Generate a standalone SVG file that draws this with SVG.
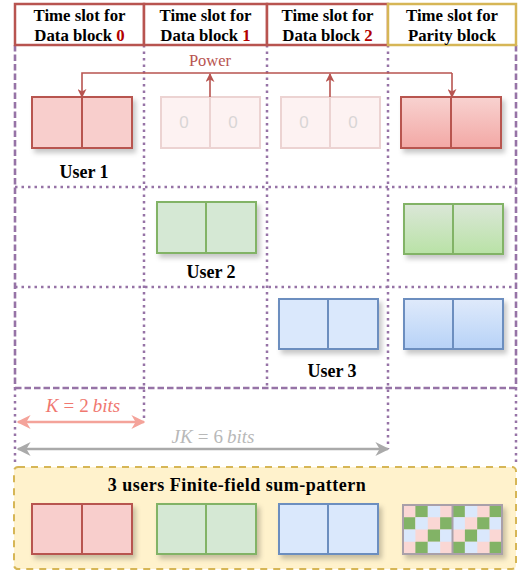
<svg xmlns="http://www.w3.org/2000/svg" width="524" height="574" viewBox="0 0 524 574">
<style>
.hdr{font-family:"Liberation Serif",serif;font-weight:bold;font-size:16.8px;fill:#000;text-anchor:middle}
.num{fill:#b20000}
.lbl{font-family:"Liberation Serif",serif;font-weight:bold;font-size:18px;fill:#000;text-anchor:middle}
.dot{fill:none;stroke:#9673a6;stroke-width:2.5;stroke-dasharray:2.5 4}
.dash{fill:none;stroke:#9673a6;stroke-width:2.6;stroke-dasharray:6.5 3}
.red{fill:#f8cecc;stroke:#b85450;stroke-width:2}
.grn{fill:#d5e8d4;stroke:#82b366;stroke-width:2}
.blu{fill:#dae8fc;stroke:#6c8ebf;stroke-width:2}
.pw{fill:none;stroke:#b85450;stroke-width:1.6}
.zero{font-family:"Liberation Sans",Arial,sans-serif;font-size:17px;fill:#d9d6d6;text-anchor:middle}
.math{font-family:"Liberation Serif",serif;font-size:19px;text-anchor:middle}
</style>
<defs>
<filter id="sh" x="-20%" y="-20%" width="150%" height="160%">
<feDropShadow dx="3" dy="4" stdDeviation="2.5" flood-color="#000" flood-opacity="0.22"/>
</filter>
<linearGradient id="gr" x1="0" y1="0" x2="0" y2="1"><stop offset="0" stop-color="#f8d2d0"/><stop offset="1" stop-color="#f3a8a5"/></linearGradient>
<linearGradient id="gg" x1="0" y1="0" x2="0" y2="1"><stop offset="0" stop-color="#dbe7d8"/><stop offset="1" stop-color="#b9e2a6"/></linearGradient>
<linearGradient id="gb" x1="0" y1="0" x2="0" y2="1"><stop offset="0" stop-color="#dfeafb"/><stop offset="1" stop-color="#b7d2f7"/></linearGradient>
<marker id="ap" viewBox="0 0 10 10" refX="9" refY="5" markerWidth="9" markerHeight="9" markerUnits="userSpaceOnUse" orient="auto"><path d="M0,0 L10,5 L0,10 L3,5 z" fill="#b85450"/></marker>
<marker id="ak" viewBox="0 0 10 10" refX="9" refY="5" markerWidth="14" markerHeight="14" markerUnits="userSpaceOnUse" orient="auto-start-reverse"><path d="M0,0 L10,5 L0,10 L3,5 z" fill="#f4a39a"/></marker>
<marker id="ag" viewBox="0 0 10 10" refX="9" refY="5" markerWidth="14" markerHeight="14" markerUnits="userSpaceOnUse" orient="auto-start-reverse"><path d="M0,0 L10,5 L0,10 L3,5 z" fill="#aaaaaa"/></marker>
</defs>

<g id="grid">
<line class="dot" x1="15" y1="187" x2="516" y2="187"/>
<line class="dot" x1="15" y1="287" x2="516" y2="287"/>
<line class="dot" x1="144" y1="45" x2="144" y2="422"/>
<line class="dot" x1="267" y1="45" x2="267" y2="388"/>
<line class="dot" x1="388" y1="45" x2="388" y2="449"/>
<line class="dot" x1="15" y1="388" x2="15" y2="463"/>
<line class="dot" x1="516" y1="388" x2="516" y2="463"/>
<line class="dash" x1="15" y1="45" x2="15" y2="388"/>
<line class="dash" x1="516" y1="45" x2="516" y2="388"/>
<line class="dash" x1="15" y1="388" x2="516" y2="388"/>
</g>

<g id="header0"><rect x="15" y="4" width="129" height="41" fill="#fff" stroke="#b85450" stroke-width="2.5"/>
<text class="hdr" x="79.5" y="20.5">Time slot for</text><text class="hdr" x="79.5" y="40.5">Data block <tspan class="num">0</tspan></text></g>
<g id="header1"><rect x="144" y="4" width="123" height="41" fill="#fff" stroke="#b85450" stroke-width="2.5"/>
<text class="hdr" x="205.5" y="20.5">Time slot for</text><text class="hdr" x="205.5" y="40.5">Data block <tspan class="num">1</tspan></text></g>
<g id="header2"><rect x="267" y="4" width="121" height="41" fill="#fff" stroke="#b85450" stroke-width="2.5"/>
<text class="hdr" x="327.5" y="20.5">Time slot for</text><text class="hdr" x="327.5" y="40.5">Data block <tspan class="num">2</tspan></text></g>
<g id="header3"><rect x="388" y="4" width="128" height="41" fill="#fff" stroke="#d6b656" stroke-width="2.5"/>
<text class="hdr" x="452" y="20.5">Time slot for</text><text class="hdr" x="452" y="40.5">Parity block</text></g>

<g id="user1" filter="url(#sh)"><rect class="red" x="32" y="97" width="100" height="51"/><line class="red" x1="82" y1="97" x2="82" y2="148"/></g>
<g id="faded1"><g opacity="0.25"><rect class="red" x="161" y="97" width="99" height="51"/><line class="red" x1="210" y1="97" x2="210" y2="148"/></g>
<text class="zero" x="184" y="128">0</text><text class="zero" x="233" y="128">0</text></g>
<g id="faded2"><g opacity="0.25"><rect class="red" x="281" y="97" width="99" height="51"/><line class="red" x1="330" y1="97" x2="330" y2="148"/></g>
<text class="zero" x="304" y="128">0</text><text class="zero" x="353" y="128">0</text></g>
<g id="parity1" filter="url(#sh)"><rect x="401" y="97" width="100" height="51" fill="url(#gr)" stroke="#b85450" stroke-width="2"/><line class="red" x1="451" y1="97" x2="451" y2="148"/></g>
<text id="user1label" class="lbl" x="84" y="178">User 1</text>

<g id="user2" filter="url(#sh)"><rect class="grn" x="157" y="202" width="99" height="51"/><line class="grn" x1="206" y1="202" x2="206" y2="253"/></g>
<g id="parity2" filter="url(#sh)"><rect x="404" y="204" width="99" height="50" fill="url(#gg)" stroke="#82b366" stroke-width="2"/><line class="grn" x1="453" y1="204" x2="453" y2="254"/></g>
<text id="user2label" class="lbl" x="211" y="278">User 2</text>

<g id="user3" filter="url(#sh)"><rect class="blu" x="279" y="299" width="99" height="50"/><line class="blu" x1="328" y1="299" x2="328" y2="349"/></g>
<g id="parity3" filter="url(#sh)"><rect x="404" y="299" width="99" height="50" fill="url(#gb)" stroke="#6c8ebf" stroke-width="2"/><line class="blu" x1="453" y1="299" x2="453" y2="349"/></g>
<text id="user3label" class="lbl" x="332" y="377">User 3</text>

<g id="connectors">
<path class="pw" d="M452,73 L82,73 L82,97" marker-end="url(#ap)"/>
<path class="pw" d="M452,73 L452,97" marker-end="url(#ap)"/>
<path class="pw" d="M210,97 L210,74" marker-end="url(#ap)"/>
<path class="pw" d="M330,97 L330,74" marker-end="url(#ap)"/>
<line x1="18" y1="422" x2="144" y2="422" stroke="#f4a39a" stroke-width="2.5" marker-start="url(#ak)" marker-end="url(#ak)"/>
<line x1="18" y1="449" x2="388" y2="449" stroke="#aaaaaa" stroke-width="2.5" marker-start="url(#ag)" marker-end="url(#ag)"/>
</g>
<text id="power" x="210" y="66" font-family="Liberation Serif,serif" font-size="16.5" fill="#b85450" text-anchor="middle">Power</text>
<text id="klabel" class="math" x="83" y="412" fill="#f07870"><tspan font-style="italic">K</tspan><tspan dx="5">=</tspan><tspan dx="5">2</tspan><tspan dx="4" font-style="italic">bits</tspan></text>
<text id="jklabel" class="math" x="213" y="443" fill="#b8b8b8"><tspan font-style="italic">JK</tspan><tspan dx="5">=</tspan><tspan dx="5">6</tspan><tspan dx="4" font-style="italic">bits</tspan></text>

<g id="sumpattern">
<rect x="14" y="467" width="502" height="102" rx="4" fill="#fff2cc" stroke="#d6b656" stroke-width="2" stroke-dasharray="7 6"/>
<text class="lbl" x="237" y="491" font-size="18.5" letter-spacing="0.5">3 users Finite-field sum-pattern</text>
<g filter="url(#sh)"><rect class="red" x="32" y="504" width="100" height="50"/><line class="red" x1="82" y1="504" x2="82" y2="554"/></g>
<g filter="url(#sh)"><rect class="grn" x="157" y="504" width="99" height="50"/><line class="grn" x1="206" y1="504" x2="206" y2="554"/></g>
<g filter="url(#sh)"><rect class="blu" x="279" y="504" width="99" height="50"/><line class="blu" x1="328" y1="504" x2="328" y2="554"/></g>
<g filter="url(#sh)">
<rect x="403" y="505" width="99" height="49" fill="#fad7d4"/>
<g fill="#82b366">
<rect x="415.4" y="505" width="12.4" height="12.25"/><rect x="403" y="517.25" width="12.4" height="12.25"/><rect x="440.1" y="517.25" width="12.4" height="12.25"/><rect x="427.8" y="529.5" width="12.4" height="12.25"/><rect x="415.4" y="541.75" width="12.4" height="12.25"/>
<rect x="452.5" y="505" width="12.4" height="12.25"/><rect x="489.6" y="505" width="12.4" height="12.25"/><rect x="477.2" y="517.25" width="12.4" height="12.25"/><rect x="464.9" y="529.5" width="12.4" height="12.25"/><rect x="452.5" y="541.75" width="12.4" height="12.25"/><rect x="489.6" y="541.75" width="12.4" height="12.25"/>
</g>
<g fill="#dae8fc">
<rect x="427.8" y="505" width="12.4" height="12.25"/><rect x="415.4" y="517.25" width="12.4" height="12.25"/><rect x="403" y="529.5" width="12.4" height="12.25"/><rect x="440.1" y="529.5" width="12.4" height="12.25"/><rect x="427.8" y="541.75" width="12.4" height="12.25"/>
<rect x="464.9" y="505" width="12.4" height="12.25"/><rect x="452.5" y="517.25" width="12.4" height="12.25"/><rect x="489.6" y="517.25" width="12.4" height="12.25"/><rect x="477.2" y="529.5" width="12.4" height="12.25"/><rect x="464.9" y="541.75" width="12.4" height="12.25"/>
</g>
<rect x="403" y="505" width="99" height="49" fill="none" stroke="#a9a0a9" stroke-width="2"/>
<line x1="452.5" y1="505" x2="452.5" y2="554" stroke="#a9a0a9" stroke-width="2"/>
</g>
</g>
</svg>
